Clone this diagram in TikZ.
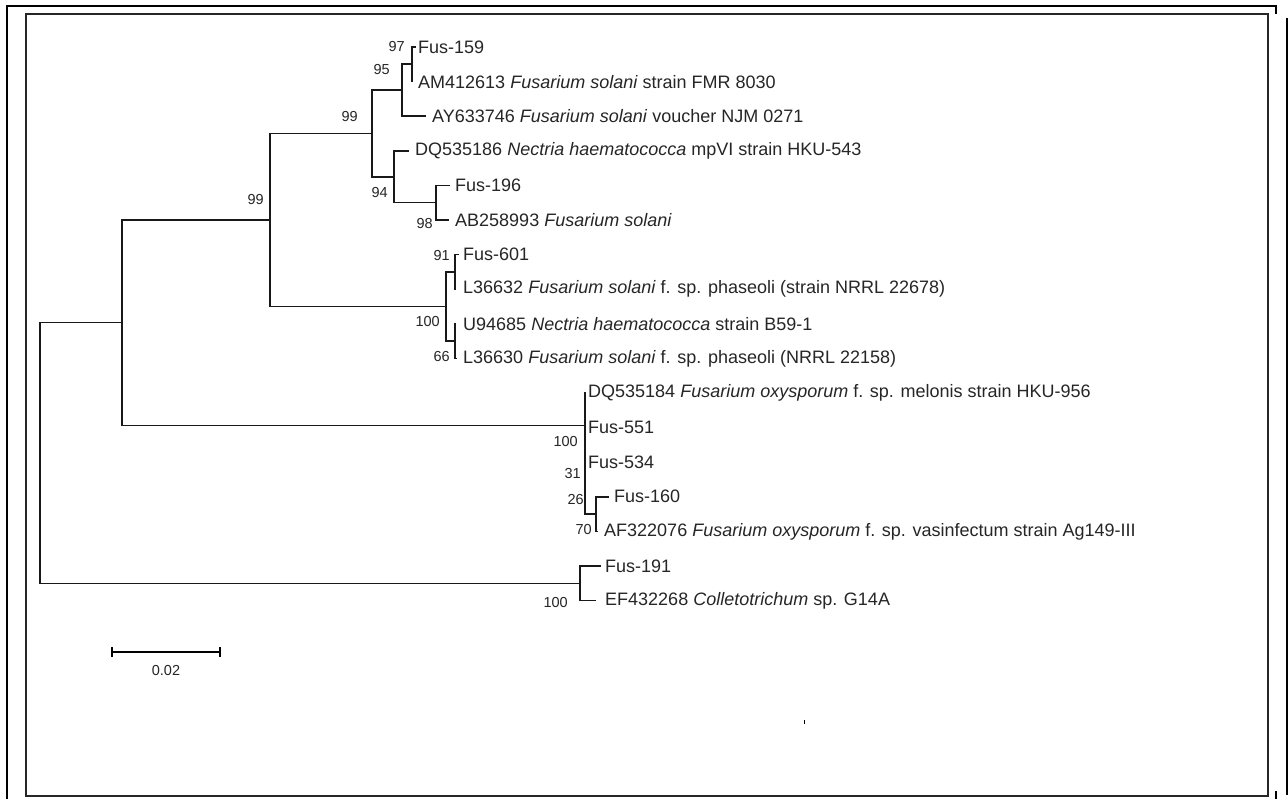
\documentclass[tikz,border=0pt]{standalone}
\usepackage{fontspec}
\setmainfont{Liberation Sans}
\begin{document}
\begin{tikzpicture}[x=1pt,y=-1pt,
  br/.style={line width=1.6pt,line cap=rect,black!90},
  taxon/.style={anchor=west,inner sep=0pt,font=\fontsize{18}{20}\selectfont,text=black!85},
  bs/.style={anchor=east,inner sep=0pt,font=\fontsize{14.5}{16}\selectfont,text=black!85},
  frame/.style={line width=2pt,black}]
\useasboundingbox (0,0) rectangle (1288,799);
\fill[white] (0,0) rectangle (1288,799);
% frames
\draw[frame] (7,799) -- (7,6) -- (1276,6) -- (1276,14);
\draw[frame] (1287,18) -- (1287,795);
\draw[frame] (1276,791) -- (1276,799);
\draw[line width=1.4pt,black!85] (26,14) rectangle (1268,796);
% internal nodes
\coordinate (root) at (40,453);
\coordinate (K) at (122,322.7);
\coordinate (S) at (270,220);
\coordinate (C) at (372,133.5);
\coordinate (B) at (402,90.2);
\coordinate (A) at (412,64.3);
\coordinate (D) at (394,176.8);
\coordinate (E) at (436,202.7);
\coordinate (H) at (446,306.5);
\coordinate (F) at (455,271.9);
\coordinate (G) at (455,341.1);
\coordinate (O) at (585,425.4);
\coordinate (R) at (585,457.6);
\coordinate (Q) at (585,487.5);
\coordinate (P) at (596,514.1);
\coordinate (T) at (580,583.3);
% leaf tips
\coordinate (t1) at (415,47);
\coordinate (t2) at (412,81.6);
\coordinate (t3) at (425,116.2);
\coordinate (t4) at (408,150.8);
\coordinate (t5) at (449,185.4);
\coordinate (t6) at (448,220);
\coordinate (t7) at (458,254.6);
\coordinate (t8) at (455,289.2);
\coordinate (t9) at (455,323.8);
\coordinate (t10) at (456,358.4);
\coordinate (t11) at (585,393);
\coordinate (t12) at (585,427.6);
\coordinate (t13) at (585,462.2);
\coordinate (t14) at (608,496.8);
\coordinate (t15) at (597,531.4);
\coordinate (t16) at (600,566);
\coordinate (t17) at (595,600.6);
% branches
\draw[br] (root) |- (K); \draw[br] (root) |- (T);
\draw[br] (K) |- (S); \draw[br] (K) |- (O);
\draw[br] (S) |- (C); \draw[br] (S) |- (H);
\draw[br] (C) |- (B); \draw[br] (C) |- (D);
\draw[br] (B) |- (A); \draw[br] (B) |- (t3);
\draw[br] (A) |- (t1); \draw[br] (A) |- (t2);
\draw[br] (D) |- (t4); \draw[br] (D) |- (E);
\draw[br] (E) |- (t5); \draw[br] (E) |- (t6);
\draw[br] (H) |- (F); \draw[br] (H) |- (G);
\draw[br] (F) |- (t7); \draw[br] (F) |- (t8);
\draw[br] (G) |- (t9); \draw[br] (G) |- (t10);
\draw[br] (O) |- (t11); \draw[br] (O) |- (R);
\draw[br] (R) |- (t12); \draw[br] (R) |- (Q);
\draw[br] (Q) |- (t13); \draw[br] (Q) |- (P);
\draw[br] (P) |- (t14); \draw[br] (P) |- (t15);
\draw[br] (T) |- (t16); \draw[br] (T) |- (t17);
% taxa
\node[taxon] (n1) at (418,47) {Fus-159};
\node[taxon] (n2) at (418,81.6) {AM412613 \textit{Fusarium solani} strain FMR 8030};
\node[taxon] (n3) at (432,116.2) {AY633746 \textit{Fusarium solani} voucher NJM 0271};
\node[taxon] (n4) at (415,150.8) {DQ535186 \textit{Nectria haematococca} mpVI strain HKU-543};
\node[taxon] (n5) at (455,185.4) {Fus-196};
\node[taxon] (n6) at (455,220) {AB258993 \textit{Fusarium solani}};
\node[taxon] (n7) at (463,254.6) {Fus-601};
\node[taxon] (n8) at (463,289.2) {L36632 \textit{Fusarium solani} f. sp. phaseoli (strain NRRL 22678)};
\node[taxon] (n9) at (463,323.8) {U94685 \textit{Nectria haematococca} strain B59-1};
\node[taxon] (n10) at (463,358.4) {L36630 \textit{Fusarium solani} f. sp. phaseoli (NRRL 22158)};
\node[taxon] (n11) at (588,393) {DQ535184 \textit{Fusarium oxysporum} f. sp. melonis strain HKU-956};
\node[taxon] (n12) at (588,427.6) {Fus-551};
\node[taxon] (n13) at (588,462.2) {Fus-534};
\node[taxon] (n14) at (614,496.8) {Fus-160};
\node[taxon] (n15) at (604,531.4) {AF322076 \textit{Fusarium oxysporum} f. sp. vasinfectum strain Ag149-III};
\node[taxon] (n16) at (605,566) {Fus-191};
\node[taxon] (n17) at (605,600.6) {EF432268 \textit{Colletotrichum} sp. G14A};
% bootstrap values
\node[bs] (b1) at (405,47) {97};
\node[bs] (b2) at (390,70) {95};
\node[bs] (b3) at (358,117) {99};
\node[bs] (b4) at (388,193) {94};
\node[bs] (b5) at (433,224) {98};
\node[bs] (b6) at (264,200) {99};
\node[bs] (b7) at (450,256) {91};
\node[bs] (b8) at (440,322) {100};
\node[bs] (b9) at (450,357) {66};
\node[bs] (b10) at (578,442) {100};
\node[bs] (b11) at (581,474) {31};
\node[bs] (b12) at (584,500) {26};
\node[bs] (b13) at (592,530) {70};
\node[bs] (b14) at (568,603) {100};
% scale bar
\coordinate (s1) at (112,652);
\coordinate (s2) at (220,652);
\draw[line width=1.6pt] (s1) -- (s2);
\draw[line width=1.6pt] ([yshift=-5pt]s1) -- ([yshift=5pt]s1);
\draw[line width=1.6pt] ([yshift=-5pt]s2) -- ([yshift=5pt]s2);
\node[bs,anchor=center] (sl) at (166,671) {0.02};
% stray dot
\draw[line width=1pt] (804,720) -- (804,724);
\end{tikzpicture}
\end{document}
